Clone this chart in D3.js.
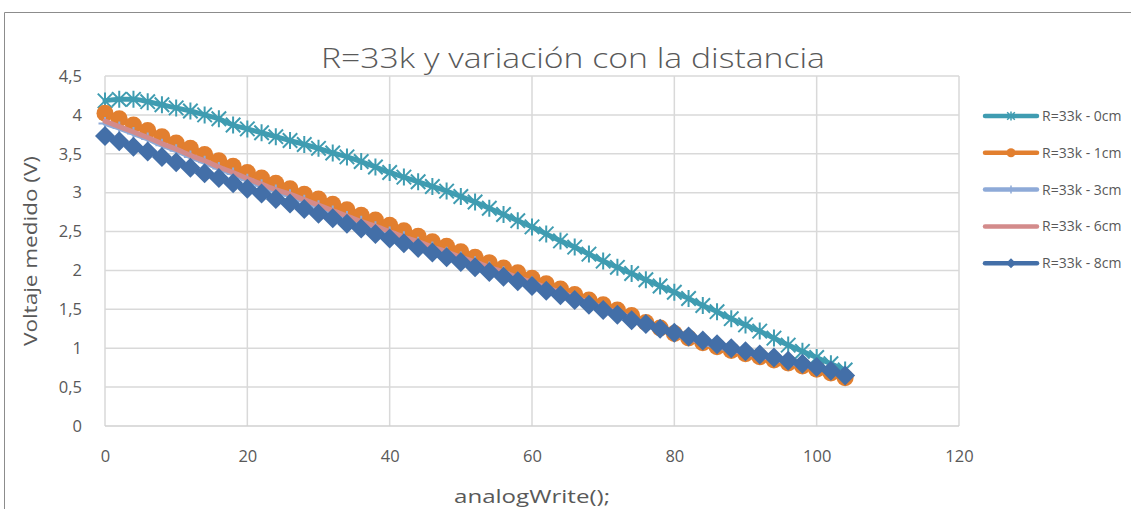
<!DOCTYPE html>
<html><head><meta charset="utf-8">
<script src="https://cdn.jsdelivr.net/npm/d3@7"></script>
<style>body{margin:0;background:#fff;overflow:hidden} text{font-family:"Open Sans",sans-serif}</style>
</head><body><svg id="c" width="1131" height="509"></svg>
<script>
const xValues = [0,2,4,6,8,10,12,14,16,18,20,22,24,26,28,30,32,34,36,38,40,42,44,46,48,50,52,54,56,58,60,62,64,66,68,70,72,74,76,78,80,82,84,86,88,90,92,94,96,98,100,102,104];
const s0cm = [4.18,4.20,4.20,4.17,4.13,4.09,4.05,4.00,3.95,3.87,3.82,3.77,3.72,3.67,3.62,3.57,3.51,3.46,3.40,3.33,3.26,3.20,3.14,3.08,3.02,2.95,2.88,2.80,2.72,2.64,2.56,2.47,2.38,2.30,2.21,2.12,2.04,1.96,1.88,1.80,1.72,1.64,1.55,1.47,1.38,1.30,1.22,1.13,1.04,0.96,0.88,0.80,0.72];
const s1cm = [4.02,3.95,3.87,3.80,3.72,3.64,3.57,3.49,3.41,3.34,3.26,3.19,3.12,3.05,2.98,2.92,2.85,2.78,2.71,2.65,2.58,2.51,2.44,2.37,2.31,2.24,2.17,2.10,2.03,1.97,1.90,1.83,1.76,1.69,1.62,1.56,1.49,1.42,1.33,1.26,1.19,1.13,1.07,1.02,0.97,0.93,0.89,0.85,0.81,0.77,0.73,0.68,0.62];
const s3cm = [3.89,3.83,3.76,3.69,3.61,3.54,3.46,3.39,3.31,3.24,3.16,3.09,3.02,2.96,2.89,2.82,2.75,2.68,2.62,2.55,2.48,2.42,2.35,2.29,2.22,2.16,2.10,2.03,1.97,1.90,1.84,1.77,1.71,1.64,1.58,1.51,1.45,1.38,1.31,1.25,1.18,1.13,1.07,1.02,0.98,0.94,0.90,0.86,0.82,0.78,0.75,0.70,0.64];
const s6cm = [3.92,3.85,3.78,3.71,3.63,3.56,3.48,3.41,3.33,3.26,3.18,3.11,3.04,2.98,2.91,2.84,2.77,2.70,2.63,2.57,2.50,2.43,2.37,2.30,2.24,2.17,2.11,2.04,1.98,1.91,1.85,1.78,1.72,1.65,1.59,1.52,1.46,1.39,1.32,1.26,1.19,1.13,1.08,1.03,0.98,0.94,0.90,0.86,0.82,0.79,0.75,0.70,0.64];
const s8cm = [3.73,3.66,3.59,3.53,3.46,3.39,3.32,3.25,3.19,3.12,3.05,2.99,2.92,2.86,2.79,2.73,2.67,2.60,2.54,2.47,2.41,2.35,2.29,2.23,2.17,2.11,2.04,1.98,1.92,1.86,1.80,1.74,1.68,1.62,1.56,1.49,1.43,1.36,1.31,1.25,1.20,1.15,1.10,1.05,1.00,0.96,0.92,0.88,0.84,0.80,0.76,0.71,0.65];
const seriesNames = ["R=33k - 0cm","R=33k - 1cm","R=33k - 3cm","R=33k - 6cm","R=33k - 8cm"];
const seriesColors = ["#3f9cb1","#e27f2f","#8eaad8","#d38b8b","#436fa8"];
const seriesMarkers = ["star","circle","plus","none","diamond"];
const xTicks = [0,20,40,60,80,100,120];
const yTicks = [0,0.5,1,1.5,2,2.5,3,3.5,4,4.5];
const titleText = "R=33k y variación con la distancia";
const xTitle = "analogWrite();";
const yTitle = "Voltaje medido (V)";

const seriesData = [s0cm,s1cm,s3cm,s6cm,s8cm];
const svg = d3.select("#c");
const W = 1131, H = 509;
const x = d3.scaleLinear().domain([0,120]).range([105,959]);
const y = d3.scaleLinear().domain([0,4.5]).range([426,76]);

svg.append("path").attr("d",`M4.5,${H} V12.5 H${W}`).attr("fill","none").attr("stroke","#8c8c8c").attr("stroke-width",1);

const grid = svg.append("g");
grid.selectAll(".hg").data(yTicks.filter(d=>d>0)).join("line")
  .attr("x1",x(0)).attr("x2",x(120)).attr("y1",d=>y(d)).attr("y2",d=>y(d))
  .attr("stroke","#d9d9d9").attr("stroke-width",1.5);
grid.selectAll(".vg").data(xTicks).join("line")
  .attr("x1",d=>x(d)).attr("x2",d=>x(d)).attr("y1",y(0)).attr("y2",y(4.5))
  .attr("stroke","#d9d9d9").attr("stroke-width",1.5);
svg.append("line").attr("x1",x(0)).attr("x2",x(120)).attr("y1",y(0)).attr("y2",y(0))
  .attr("stroke","#d0d0d0").attr("stroke-width",1.5);

const fmt = d => String(d).replace(".",",");
const yAxis = svg.append("g").attr("transform",`translate(${x(0)},0)`)
  .call(d3.axisLeft(y).tickValues(yTicks).tickFormat(fmt).tickSize(0).tickPadding(23));
const xAxis = svg.append("g").attr("transform",`translate(0,${y(0)})`)
  .call(d3.axisBottom(x).tickValues(xTicks).tickSize(0).tickPadding(24));
[yAxis,xAxis].forEach(a=>{
  a.select(".domain").remove();
  a.selectAll("text").attr("fill","#595959").style("font-size","16.5px").style("font-family","'Open Sans',sans-serif");
});

function markerPath(type, s){
  if(type==="circle") return d3.symbol(d3.symbolCircle, Math.PI*s*s)();
  if(type==="diamond") return `M0,${-s}L${s},0L0,${s}L${-s},0Z`;
  if(type==="plus") return `M0,${-s}V${s}M${-s},0H${s}`;
  if(type==="star") { const a = s*0.85; return `M${-a},${-a}L${a},${a}M${-a},${a}L${a},${-a}M0,${-s}V${s}`; }
  return "";
}
const markerSize = {circle:8.5, diamond:10, plus:6.5, star:8.5, none:0};

const line = d3.line().x((d,i)=>x(xValues[i])).y(d=>y(d)).curve(d3.curveMonotoneX);
seriesData.forEach((vals,k)=>{
  const g = svg.append("g");
  g.append("path").datum(vals).attr("d",line).attr("fill","none")
    .attr("stroke",seriesColors[k]).attr("stroke-width",5).attr("stroke-linejoin","round").attr("stroke-linecap","round");
  const m = seriesMarkers[k];
  if(m!=="none"){
    const filled = (m==="circle"||m==="diamond");
    g.selectAll("path.mk").data(vals).join("path").attr("class","mk")
      .attr("transform",(d,i)=>`translate(${x(xValues[i])},${y(d)})`)
      .attr("d",markerPath(m,markerSize[m]))
      .attr("fill",filled?seriesColors[k]:"none")
      .attr("stroke",seriesColors[k]).attr("stroke-width",filled?0:2);
  }
});

svg.append("text").attr("x",573).attr("y",68).attr("text-anchor","middle")
  .attr("fill","#595959").style("font-size","28px").style("font-weight","300").text(titleText)
  .attr("textLength",504).attr("lengthAdjust","spacingAndGlyphs");

svg.append("text").attr("x",x(60)).attr("y",503).attr("text-anchor","middle")
  .attr("fill","#595959").style("font-size","19px").text(xTitle)
  .attr("textLength",156).attr("lengthAdjust","spacingAndGlyphs");
svg.append("text").attr("transform",`translate(37,${(y(0)+y(4.5))/2}) rotate(-90)`).attr("text-anchor","middle")
  .attr("fill","#595959").style("font-size","19px").text(yTitle)
  .attr("textLength",190).attr("lengthAdjust","spacingAndGlyphs");

const lg = svg.append("g");
seriesNames.forEach((name,k)=>{
  const ly = 116 + k*36.8;
  lg.append("line").attr("x1",985).attr("x2",1037).attr("y1",ly).attr("y2",ly)
    .attr("stroke",seriesColors[k]).attr("stroke-width",4.5).attr("stroke-linecap","round");
  const m = seriesMarkers[k];
  if(m!=="none"){
    const filled = (m==="circle"||m==="diamond");
    const sz = {circle:4.5, diamond:5, plus:4, star:4.5}[m];
    lg.append("path").attr("transform",`translate(1011,${ly})`).attr("d",markerPath(m,sz))
      .attr("fill",filled?seriesColors[k]:"none").attr("stroke",seriesColors[k]).attr("stroke-width",filled?0:1.5);
  }
  lg.append("text").attr("x",1042).attr("y",ly+5).attr("fill","#595959").style("font-size","14px").text(name);
});
</script></body></html>
